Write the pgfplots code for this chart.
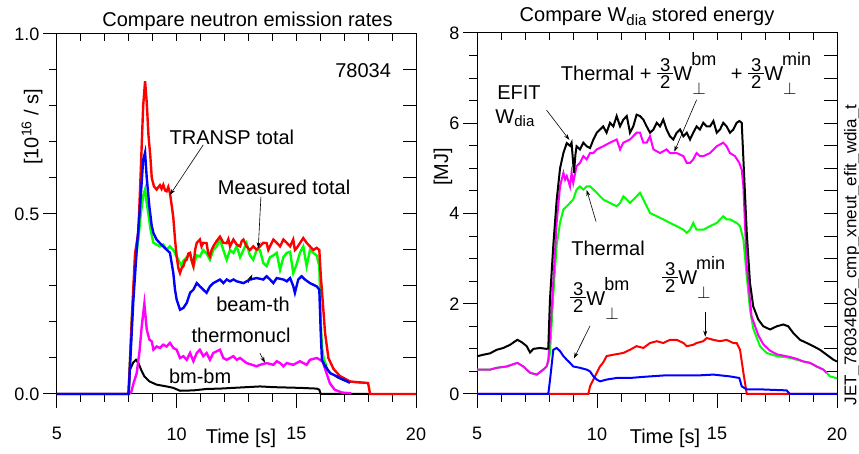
\documentclass[border=0pt]{standalone}
\usepackage{pgfplots}
\pgfplotsset{compat=1.18}
\usepackage{fontspec}
\setmainfont{Liberation Sans}
\usetikzlibrary{arrows.meta}
\definecolor{cR}{rgb}{1,0,0}
\definecolor{cG}{rgb}{0,1,0}
\definecolor{cB}{rgb}{0,0,1}
\definecolor{cM}{rgb}{1,0,1}
\newcommand{\fs}[1]{\fontsize{#1}{#1}\selectfont}
\newcommand{\fr}{\ensuremath{\vcenter{\hbox{\fs{18.5}\renewcommand{\arraystretch}{0.8}\setlength{\arrayrulewidth}{1pt}\begin{tabular}{@{\hspace{3pt}}c@{\hspace{3pt}}}3\\[-3pt]\hline\noalign{\vskip2pt}2\end{tabular}}}}}
\newcommand{\Wp}[1]{W\rlap{\hspace{-1pt}\raisebox{15pt}{\fs{18}#1}}\rlap{\raisebox{-14pt}{\fs{16}$\perp$}}\phantom{\fs{18}#1}}
\tikzset{
  ann/.style={font=\fs{20}, inner sep=0pt},
  arr/.style={-{Stealth[length=6pt,width=4pt]}, line width=0.6pt}
}
\pgfplotsset{
  tk/.style={black, line width=1pt, forget plot, mark=none},
  mainax/.style={scale only axis, anchor=south west, xmin=5, xmax=20, clip=false,
    xtick pos=bottom, ytick pos=left, tick align=outside,
    xtick={5,10,15,20}, minor xtick={6,7,8,9,11,12,13,14,16,17,18,19},
    major tick length=14pt, minor tick length=8pt,
    axis line style={line width=1pt},
    tick style={line width=1pt, draw=black},
    xticklabel style={yshift=-16pt},
    tick label style={font=\fs{18}}, /pgf/number format/assume math mode=true}
}
\begin{document}
\begin{tikzpicture}
\useasboundingbox (0pt,0pt) rectangle (859pt,454pt);
% ================= LEFT PANEL =================
\begin{axis}[mainax, at={(57pt,60pt)}, width=359pt, height=360pt, ymin=0, ymax=1,
  ytick={0,0.5,1}, yticklabels={0.0,0.5,1.0},
  minor ytick={0.1,0.2,0.3,0.4,0.6,0.7,0.8,0.9}]
% tick marks
\pgfplotsinvokeforeach{5,10,15,20}{\addplot[tk] coordinates {(#1,0) (#1,-0.036)};}
\pgfplotsinvokeforeach{6,7,8,9,11,12,13,14,16,17,18,19}{\addplot[tk] coordinates {(#1,0) (#1,-0.022)};}
\pgfplotsinvokeforeach{6,7,8,9,10,11,12,13,14,15,16,17,18,19}{\addplot[tk] coordinates {(#1,1) (#1,0.9806)};}
\pgfplotsinvokeforeach{0,0.5,1}{\addplot[tk] coordinates {(5,#1) (4.415,#1)};}
\pgfplotsinvokeforeach{0.1,0.2,0.3,0.4,0.6,0.7,0.8,0.9}{\addplot[tk] coordinates {(5,#1) (4.666,#1)};}
\pgfplotsinvokeforeach{0.1,0.2,0.3,0.4,0.5,0.6,0.7,0.8,0.9}{\addplot[tk] coordinates {(20,#1) (19.457,#1)};}
% thin black (measured tail)
\addplot[black, line width=0.7pt] coordinates {(16.05,0.15) (16.15,0.10) (16.3,0.072) (16.45,0.058) (16.7,0.045) (17.0,0.036) (17.25,0.033) (17.5,0.031) (18.0,0.030)};
% bm-bm
\addplot[black, line width=2pt] coordinates {(5,0) (7.99,0) (8.05,0.068) (8.19,0.088) (8.30,0.095) (8.40,0.086) (8.51,0.068) (8.65,0.049) (8.86,0.035) (9.16,0.026) (9.58,0.021) (9.86,0.017) (10.14,0.009) (10.70,0.010) (11.25,0.014) (11.81,0.015) (12.37,0.017) (12.92,0.019) (13.48,0.021) (14.04,0.019) (14.60,0.018) (15.15,0.017) (15.85,0.015) (15.96,0.012) (16.02,0) (18.0,0)};
% thermonucl
\addplot[cM, line width=2.4pt] coordinates {(8.0,0) (8.10,0.005) (8.20,0.03) (8.33,0.058) (8.45,0.12) (8.54,0.188) (8.65,0.251) (8.75,0.179) (8.86,0.151) (8.96,0.146) (9.03,0.123) (9.16,0.132) (9.30,0.128) (9.44,0.137) (9.58,0.132) (9.72,0.142) (9.86,0.128) (10.0,0.123) (10.14,0.10) (10.28,0.105) (10.42,0.095) (10.56,0.114) (10.70,0.091) (10.84,0.114) (10.97,0.123) (11.11,0.105) (11.25,0.114) (11.39,0.095) (11.53,0.114) (11.81,0.123) (11.95,0.100) (12.09,0.095) (12.37,0.105) (12.51,0.095) (12.65,0.100) (12.92,0.086) (13.06,0.083) (13.34,0.077) (13.48,0.081) (13.76,0.086) (14.04,0.081) (14.18,0.091) (14.32,0.086) (14.46,0.077) (14.60,0.086) (14.87,0.081) (15.15,0.091) (15.43,0.081) (15.57,0.095) (15.85,0.100) (15.99,0.095) (16.1,0.09) (16.25,0.06) (16.4,0.03) (16.6,0.012) (16.9,0.004) (17.3,0.002)};
% measured total
\addplot[cG, line width=2.4pt] coordinates {(7.99,0) (8.12,0.2) (8.26,0.36) (8.40,0.43) (8.50,0.50) (8.60,0.55) (8.68,0.568) (8.75,0.53) (8.82,0.50) (8.90,0.46) (8.96,0.44) (9.03,0.42) (9.16,0.415) (9.30,0.41) (9.44,0.415) (9.58,0.401) (9.72,0.410) (9.86,0.40) (10.0,0.382) (10.07,0.373) (10.21,0.355) (10.28,0.37) (10.42,0.38) (10.56,0.39) (10.63,0.37) (10.70,0.355) (10.84,0.385) (10.97,0.382) (11.11,0.40) (11.25,0.39) (11.39,0.373) (11.53,0.40) (11.67,0.41) (11.81,0.43) (11.95,0.40) (12.09,0.373) (12.23,0.40) (12.37,0.392) (12.51,0.41) (12.65,0.38) (12.79,0.40) (12.92,0.419) (13.06,0.385) (13.20,0.373) (13.34,0.40) (13.48,0.40) (13.62,0.364) (13.76,0.355) (13.90,0.38) (14.04,0.385) (14.18,0.392) (14.32,0.345) (14.46,0.38) (14.60,0.392) (14.74,0.395) (14.87,0.336) (15.01,0.36) (15.15,0.392) (15.29,0.41) (15.43,0.355) (15.57,0.40) (15.71,0.392) (15.85,0.385) (15.96,0.355) (16.02,0.20) (16.07,0.13) (16.15,0.095) (16.25,0.08)};
% TRANSP total
\addplot[cR, line width=2.4pt] coordinates {(5,0) (7.99,0) (8.12,0.2) (8.26,0.39) (8.40,0.45) (8.50,0.62) (8.60,0.80) (8.68,0.869) (8.75,0.81) (8.82,0.72) (8.90,0.66) (8.96,0.60) (9.05,0.577) (9.16,0.568) (9.30,0.58) (9.37,0.57) (9.44,0.581) (9.52,0.565) (9.58,0.563) (9.65,0.575) (9.72,0.558) (9.80,0.52) (9.86,0.49) (9.93,0.43) (10.0,0.382) (10.07,0.35) (10.14,0.336) (10.21,0.35) (10.28,0.355) (10.35,0.37) (10.42,0.373) (10.49,0.39) (10.56,0.392) (10.63,0.37) (10.70,0.355) (10.77,0.40) (10.84,0.42) (10.97,0.429) (11.04,0.41) (11.11,0.42) (11.25,0.419) (11.32,0.39) (11.39,0.382) (11.46,0.40) (11.53,0.410) (11.67,0.425) (11.81,0.437) (11.95,0.42) (12.09,0.419) (12.16,0.43) (12.23,0.41) (12.37,0.429) (12.51,0.415) (12.65,0.410) (12.72,0.425) (12.79,0.429) (12.92,0.410) (13.06,0.40) (13.20,0.410) (13.34,0.401) (13.48,0.410) (13.62,0.42) (13.76,0.419) (13.83,0.40) (13.90,0.410) (14.04,0.429) (14.18,0.42) (14.32,0.410) (14.46,0.429) (14.60,0.42) (14.74,0.410) (14.87,0.429) (14.94,0.40) (15.01,0.405) (15.15,0.419) (15.29,0.433) (15.43,0.42) (15.57,0.410) (15.71,0.40) (15.85,0.406) (15.96,0.40) (16.02,0.33) (16.10,0.26) (16.20,0.17) (16.34,0.10) (16.55,0.07) (16.82,0.05) (17.24,0.035) (17.50,0.033) (17.94,0.031) (18.0,0.030) (18.08,0) (20,0)};
% beam-th
\addplot[cB, line width=2.4pt] coordinates {(5,0) (7.99,0) (8.05,0.077) (8.19,0.26) (8.33,0.40) (8.47,0.52) (8.60,0.65) (8.68,0.671) (8.75,0.60) (8.86,0.52) (8.96,0.466) (9.03,0.447) (9.16,0.429) (9.30,0.419) (9.44,0.410) (9.58,0.401) (9.72,0.392) (9.79,0.364) (9.86,0.336) (9.93,0.29) (10.0,0.262) (10.14,0.234) (10.28,0.239) (10.42,0.253) (10.56,0.281) (10.70,0.290) (10.84,0.308) (10.97,0.299) (11.11,0.290) (11.25,0.281) (11.39,0.299) (11.53,0.308) (11.67,0.313) (11.81,0.318) (11.95,0.308) (12.09,0.318) (12.23,0.313) (12.37,0.318) (12.51,0.313) (12.79,0.308) (13.06,0.318) (13.34,0.322) (13.62,0.318) (13.76,0.327) (13.90,0.318) (14.04,0.308) (14.18,0.322) (14.46,0.318) (14.60,0.313) (14.74,0.322) (14.87,0.30) (14.94,0.281) (15.08,0.318) (15.22,0.327) (15.36,0.318) (15.57,0.308) (15.85,0.299) (15.96,0.290) (16.02,0.17) (16.07,0.095) (16.20,0.077) (16.41,0.058) (16.69,0.049) (16.96,0.040) (17.24,0.031)};
% annotations
\node[ann, anchor=base] at (axis cs:17.79,0.880) {78034};
\node[ann, anchor=base] at (axis cs:12.31,0.694) {TRANSP total};
\draw[arr] (axis cs:11.11,0.692) -- (axis cs:9.72,0.553);
\node[ann, anchor=base] at (axis cs:14.49,0.555) {Measured total};
\draw[arr] (axis cs:13.52,0.548) -- (axis cs:13.41,0.405);
\node[ann, anchor=base] at (axis cs:13.19,0.229) {beam-th};
\draw[arr] (axis cs:12.99,0.309) -- (axis cs:13.16,0.332);
\node[ann, anchor=base] at (axis cs:12.69,0.144) {thermonucl};
\draw[arr] (axis cs:13.48,0.113) -- (axis cs:13.69,0.087);
\node[ann, anchor=base] at (axis cs:10.98,0.028) {bm-bm};
\end{axis}
% ================= RIGHT PANEL =================
\begin{axis}[mainax, at={(477pt,60pt)}, width=360pt, height=361pt, ymin=0, ymax=8,
  ytick={0,2,4,6,8},
  minor ytick={0.5,1,1.5,2.5,3,3.5,4.5,5,5.5,6.5,7,7.5}]
% tick marks
\pgfplotsinvokeforeach{5,10,15,20}{\addplot[tk] coordinates {(#1,0) (#1,-0.288)};}
\pgfplotsinvokeforeach{6,7,8,9,11,12,13,14,16,17,18,19}{\addplot[tk] coordinates {(#1,0) (#1,-0.177)};}
\pgfplotsinvokeforeach{6,7,8,9,10,11,12,13,14,15,16,17,18,19}{\addplot[tk] coordinates {(#1,8) (#1,7.845)};}
\pgfplotsinvokeforeach{0,2,4,6,8}{\addplot[tk] coordinates {(5,#1) (4.417,#1)};}
\pgfplotsinvokeforeach{0.5,1,1.5,2.5,3,3.5,4.5,5,5.5,6.5,7,7.5}{\addplot[tk] coordinates {(5,#1) (4.667,#1)};}
\pgfplotsinvokeforeach{0.5,1,1.5,2,2.5,3,3.5,4,4.5,5,5.5,6,6.5,7,7.5}{\addplot[tk] coordinates {(20,#1) (19.458,#1)};}
% 3/2 W perp min
\addplot[cR, line width=2pt] coordinates {(5,0) (9.64,0) (9.71,0.17) (9.85,0.32) (9.99,0.47) (10.125,0.61) (10.26,0.70) (10.40,0.84) (10.68,0.87) (11.10,0.91) (11.375,0.98) (11.65,1.06) (11.93,1.02) (12.21,1.13) (12.49,1.17) (12.76,1.13) (13.04,1.20) (13.32,1.20) (13.60,1.13) (13.74,1.06) (14.01,1.09) (14.15,1.13) (14.43,1.17) (14.57,1.24) (14.85,1.20) (15.125,1.17) (15.40,1.20) (15.68,1.13) (15.82,1.13) (15.96,0.98) (16.10,0.47) (16.24,0) (20,0)};
% 3/2 W perp bm
\addplot[cB, line width=2pt] coordinates {(5,0) (7.97,0) (8.04,0.3) (8.18,0.98) (8.32,1.02) (8.46,0.95) (8.60,0.84) (8.74,0.76) (8.875,0.69) (9.01,0.61) (9.29,0.58) (9.57,0.54) (9.71,0.50) (9.85,0.39) (9.99,0.32) (10.125,0.28) (10.40,0.32) (10.82,0.355) (11.375,0.355) (11.93,0.38) (12.76,0.41) (13.60,0.41) (14.15,0.41) (14.85,0.43) (15.54,0.39) (15.93,0.355) (16.03,0.17) (16.24,0.10) (16.93,0.10) (17.90,0.08) (18.04,0) (20,0)};
% Thermal
\addplot[cG, line width=2pt] coordinates {(5,0.54) (5.54,0.54) (5.82,0.58) (6.24,0.61) (6.68,0.69) (6.93,0.61) (7.21,0.47) (7.49,0.43) (7.76,0.54) (7.90,0.61) (7.97,0.70) (8.04,0.9) (8.18,2.2) (8.32,3.3) (8.46,3.8) (8.60,4.09) (8.74,4.16) (8.875,4.235) (9.01,4.31) (9.15,4.53) (9.29,4.60) (9.43,4.53) (9.57,4.60) (9.71,4.60) (9.85,4.53) (9.99,4.46) (10.125,4.38) (10.26,4.31) (10.54,4.235) (10.82,4.16) (10.96,4.235) (11.10,4.38) (11.24,4.31) (11.375,4.235) (11.65,4.38) (11.79,4.46) (11.93,4.31) (12.07,4.16) (12.21,4.01) (12.49,3.94) (12.76,3.87) (13.04,3.79) (13.32,3.72) (13.60,3.64) (13.74,3.57) (13.875,3.64) (14.01,3.79) (14.15,3.64) (14.43,3.64) (14.71,3.72) (14.99,3.79) (15.26,3.94) (15.40,3.87) (15.54,3.87) (15.82,3.79) (15.96,3.72) (16.10,3.42) (16.24,2.61) (16.375,1.87) (16.51,1.45) (16.79,1.06) (17.07,0.91) (17.49,0.84) (18.04,0.80) (18.32,0.76) (18.60,0.72) (18.875,0.69) (19.15,0.61) (19.43,0.54) (19.71,0.39) (20,0.35)};
% Thermal + ...
\addplot[cM, line width=2pt] coordinates {(5,0.54) (5.54,0.54) (5.82,0.58) (6.24,0.61) (6.68,0.69) (6.93,0.61) (7.21,0.47) (7.49,0.43) (7.76,0.54) (7.90,0.61) (7.97,0.76) (8.07,1.5) (8.18,2.5) (8.32,3.8) (8.46,4.6) (8.60,4.90) (8.67,4.75) (8.74,4.83) (8.875,4.60) (8.94,4.90) (9.01,4.68) (9.15,5.05) (9.29,5.12) (9.43,5.27) (9.57,5.20) (9.71,5.34) (9.85,5.34) (9.99,5.42) (10.26,5.49) (10.54,5.57) (10.82,5.64) (10.96,5.42) (11.10,5.57) (11.375,5.64) (11.65,5.79) (11.79,5.79) (11.93,5.57) (12.07,5.57) (12.21,5.71) (12.35,5.42) (12.625,5.34) (12.90,5.42) (13.04,5.34) (13.32,5.34) (13.60,5.27) (13.74,5.12) (13.875,5.12) (14.01,5.20) (14.15,5.34) (14.29,5.27) (14.43,5.27) (14.71,5.34) (14.99,5.49) (15.26,5.57) (15.40,5.49) (15.54,5.34) (15.75,5.27) (15.93,5.12) (16.03,4.97) (16.10,4.60) (16.24,2.83) (16.44,1.72) (16.72,1.30) (16.93,1.10) (17.21,0.96) (17.49,0.88) (18.04,0.82) (18.32,0.78) (18.60,0.72) (18.875,0.69) (19.15,0.61) (19.43,0.54) (19.57,0.47)};
% EFIT W_dia
\addplot[black, line width=2pt] coordinates {(5,0.835) (5.26,0.87) (5.54,0.90) (5.82,0.98) (6.10,1.02) (6.375,1.09) (6.68,1.20) (6.86,1.15) (7.07,1.06) (7.21,0.92) (7.35,1.0) (7.625,1.02) (7.90,1.0) (7.97,1.01) (8.04,2.09) (8.18,3.3) (8.32,4.3) (8.46,5.0) (8.60,5.34) (8.74,5.56) (8.875,5.5) (8.94,5.57) (9.04,4.90) (9.10,5.3) (9.15,5.49) (9.29,5.42) (9.43,5.57) (9.57,5.49) (9.71,5.45) (9.85,5.64) (9.99,5.79) (10.125,5.86) (10.26,5.93) (10.40,5.79) (10.54,6.01) (10.68,5.93) (10.82,6.16) (10.96,5.93) (11.10,6.08) (11.24,6.16) (11.375,5.79) (11.51,5.93) (11.65,6.19) (11.79,6.16) (11.93,6.08) (12.07,5.93) (12.21,5.79) (12.35,5.86) (12.49,6.01) (12.625,5.93) (12.76,6.08) (12.90,5.86) (13.04,5.71) (13.18,5.64) (13.32,5.79) (13.46,5.86) (13.60,5.71) (13.74,5.79) (13.875,5.64) (14.01,5.79) (14.15,5.93) (14.29,5.86) (14.43,6.01) (14.57,5.93) (14.71,5.93) (14.85,6.05) (14.99,5.79) (15.125,5.86) (15.26,6.01) (15.40,5.93) (15.54,5.79) (15.68,5.86) (15.82,6.01) (15.93,6.05) (16.03,6.01) (16.10,5.20) (16.24,3.57) (16.375,2.46) (16.51,1.94) (16.72,1.65) (16.93,1.50) (17.21,1.43) (17.49,1.50) (17.76,1.54) (17.97,1.50) (18.18,1.35) (18.46,1.20) (18.74,1.13) (19.01,1.06) (19.29,0.98) (19.57,0.87) (19.85,0.76) (20,0.72)};
% annotations
\node[ann, anchor=base] at (axis cs:6.75,6.53) {EFIT};
\node[ann, anchor=base] at (axis cs:6.58,6.0) {W\raisebox{-3pt}{\fs{15}dia}};
\draw[arr] (axis cs:7.90,6.29) -- (axis cs:8.85,5.63);
\node[ann, anchor=base west] at (axis cs:8.49,6.94) {Thermal + \fr\Wp{bm}\hspace{8pt} + \fr\Wp{min}};
\draw[arr] (axis cs:14.15,6.52) -- (axis cs:13.22,5.37);
\node[ann, anchor=base] at (axis cs:10.46,3.06) {Thermal};
\draw[arr] (axis cs:9.96,3.82) -- (axis cs:9.57,4.52);
\node[ann, anchor=base west] at (axis cs:8.875,1.97) {\fr\Wp{bm}};
\draw[arr] (axis cs:9.71,1.51) -- (axis cs:9.04,0.79);
\node[ann, anchor=base west] at (axis cs:12.70,2.42) {\fr\Wp{min}};
\draw[arr] (axis cs:14.51,1.82) -- (axis cs:14.51,1.27);
\end{axis}
% ================= TEXTS =================
\node[font=\fs{20}, anchor=base] at (247.5pt,427pt) {Compare neutron emission rates};
\node[font=\fs{20}, anchor=base] at (647pt,432pt) {Compare W\raisebox{-4pt}{\fs{15}dia} stored energy};
\node[font=\fs{20}, anchor=base] at (241pt,10pt) {Time [s]};
\node[font=\fs{20}, anchor=base] at (665pt,10pt) {Time [s]};
\node[font=\fs{20}, rotate=90] at (32pt,327pt) {[10\raisebox{7pt}{\fs{14}16} / s]};
\node[font=\fs{20}, rotate=90] at (443pt,287pt) {[MJ]};
\node[font=\fs{17}, rotate=90] at (852pt,199pt) {JET\_78034B02\_cmp\_xneut\_efit\_wdia\_t};
\end{tikzpicture}
\end{document}
